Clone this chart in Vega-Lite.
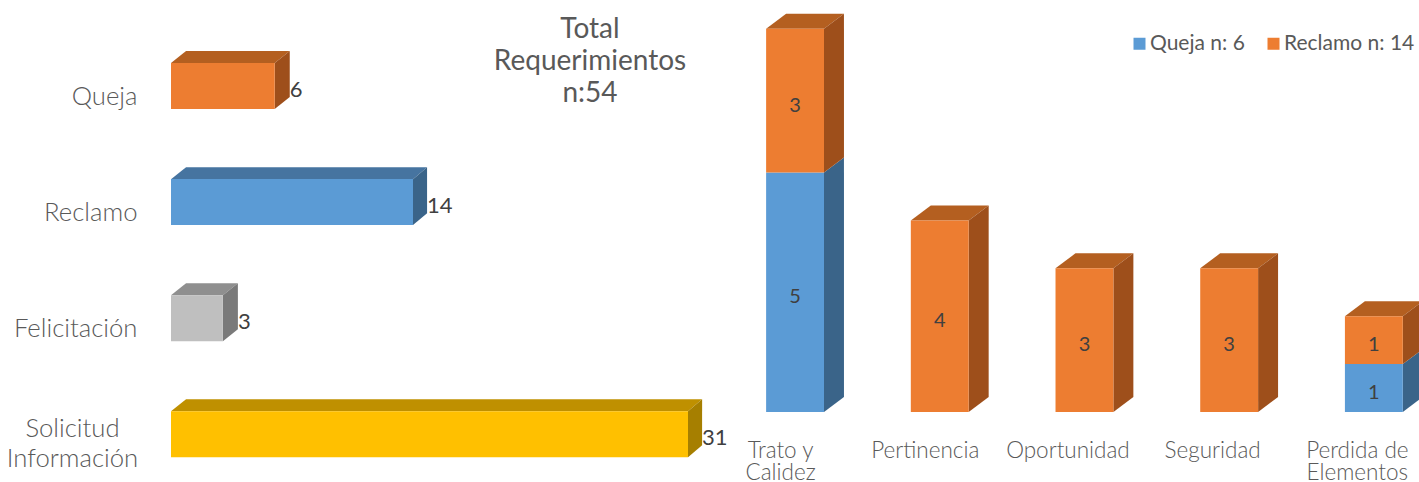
{"$schema":"https://vega.github.io/schema/vega-lite/v6.json","padding":0,"spacing":0,"bounds":"flush","background":"white","config":{"view":{"stroke":null},"font":"Lato"},
"datasets":{"tipos":[{"tipo":"Queja","n":6},{"tipo":"Reclamo","n":14},{"tipo":"Felicitación","n":3},{"tipo":"Solicitud Información","n":31}],
"dims":[{"dim":"Trato y Calidez","serie":"Queja n: 6","n":5},{"dim":"Trato y Calidez","serie":"Reclamo n: 14","n":3},{"dim":"Pertinencia","serie":"Reclamo n: 14","n":4},{"dim":"Oportunidad","serie":"Reclamo n: 14","n":3},{"dim":"Seguridad","serie":"Reclamo n: 14","n":3},{"dim":"Perdida de Elementos","serie":"Queja n: 6","n":1},{"dim":"Perdida de Elementos","serie":"Reclamo n: 14","n":1}],
"titulo":[{"texto":"Total\nRequerimientos\nn:54","xt":24.94,"yt":-0.482}]},
"hconcat":[
{"width":552,"height":482,
"layer":[
{"data":{"name":"tipos"},"transform":[{"calculate":"indexof(['Queja','Reclamo','Felicitación','Solicitud Información'],datum.tipo)","as":"i"},{"calculate":"datum.i-0.198","as":"yt"},{"calculate":"[0,1]","as":"t"},{"flatten":["t"]},{"calculate":"datum.yt-datum.t*0.103","as":"yy"},{"calculate":"datum.t*0.87","as":"xa"},{"calculate":"datum.n+datum.t*0.87","as":"xb"},{"calculate":"datum.tipo+' tapa'","as":"cara"}],
"mark":{"type":"area","orient":"horizontal"},
"encoding":{"y":{"field":"yy","type":"quantitative","scale":{"domain":[-0.741,3.411],"reverse":true,"nice":false,"zero":false},"axis":{"values":[0,1,2,3],"title":null,"domain":false,"ticks":false,"grid":false,"labelOffset":{"condition":{"test":"datum.value==3","value":-6},"value":10},"minExtent":171,"maxExtent":171,"labelPadding":{"condition":{"test":"datum.value==3","value":99},"value":34},"labelAlign":{"condition":{"test":"datum.value==3","value":"center"},"value":"right"},"labelFont":"Lato","labelFontWeight":300,"labelFontSize":25.7,"labelColor":"#595959","labelLineHeight":30,"labelBound":false,"labelFlush":false,"labelOverlap":false,"labelLimit":200,"labelExpr":"[ 'Queja','Reclamo','Felicitación',['Solicitud','Información'] ][datum.value]"}},
"x":{"field":"xa","type":"quantitative","axis":null,"scale":{"domain":[0,14,31,33.16],"range":[0,242,517,552],"nice":false,"zero":false}},"x2":{"field":"xb"},
"color":{"field":"cara","type":"nominal","legend":null,"scale":{"domain":["Queja","Reclamo","Felicitación","Solicitud Información","Queja tapa","Reclamo tapa","Felicitación tapa","Solicitud Información tapa","Queja lado","Reclamo lado","Felicitación lado","Solicitud Información lado"],"range":["#ED7D31","#5B9BD5","#BFBFBF","#FFC000","#B45F20","#4674A0","#8F8F8F","#BF9000","#9E4F1B","#3A6489","#7A7A7A","#A67F00"]}}}},
{"data":{"name":"tipos"},"transform":[{"calculate":"indexof(['Queja','Reclamo','Felicitación','Solicitud Información'],datum.tipo)","as":"i"},{"calculate":"[0,1]","as":"t"},{"flatten":["t"]},{"calculate":"datum.n+datum.t*0.87","as":"xx"},{"calculate":"datum.i+0.198-datum.t*0.103","as":"ya"},{"calculate":"datum.i-0.198-datum.t*0.103","as":"yc"},{"calculate":"datum.tipo+' lado'","as":"cara"}],
"mark":{"type":"area","orient":"vertical"},
"encoding":{"x":{"field":"xx","type":"quantitative","axis":null},"y":{"field":"ya","type":"quantitative"},"y2":{"field":"yc"},"color":{"field":"cara","type":"nominal","legend":null}}},
{"data":{"name":"tipos"},"transform":[{"calculate":"indexof(['Queja','Reclamo','Felicitación','Solicitud Información'],datum.tipo)","as":"i"},{"calculate":"datum.i-0.198","as":"yt"},{"calculate":"datum.i+0.198","as":"yb"},{"calculate":"0","as":"cero"}],
"mark":{"type":"rect"},
"encoding":{"x":{"field":"cero","type":"quantitative","axis":null},"x2":{"field":"n"},"y":{"field":"yt","type":"quantitative"},"y2":{"field":"yb"},"color":{"field":"tipo","type":"nominal","legend":null}}},
{"data":{"name":"tipos"},"transform":[{"calculate":"indexof(['Queja','Reclamo','Felicitación','Solicitud Información'],datum.tipo)","as":"i"},{"calculate":"datum.n+0.87","as":"xl"}],
"mark":{"type":"text","align":"left","baseline":"middle","dy":4,"fontSize":22,"font":"Lato","fontWeight":400,"color":"#404040"},
"encoding":{"x":{"field":"xl","type":"quantitative","axis":null},"y":{"field":"i","type":"quantitative"},"text":{"field":"n","type":"quantitative"}}},
{"data":{"name":"titulo"},
"mark":{"type":"text","align":"center","baseline":"middle","lineBreak":"\n","lineHeight":32,"fontSize":28,"font":"Lato","fontWeight":400,"color":"#595959"},
"encoding":{"x":{"field":"xt","type":"quantitative","axis":null},"y":{"field":"yt","type":"quantitative"},"text":{"field":"texto","type":"nominal"}}}
]},
{"width":696,"height":482,
"layer":[
{"data":{"name":"dims"},"transform":[{"calculate":"indexof(['Trato y Calidez','Pertinencia','Oportunidad','Seguridad','Perdida de Elementos'],datum.dim)","as":"i"},{"stack":"n","groupby":["dim"],"sort":[{"field":"serie","order":"ascending"}],"as":["y0","y1"]},{"joinaggregate":[{"op":"max","field":"y1","as":"ymax"}],"groupby":["dim"]},{"filter":"datum.y1==datum.ymax"},{"calculate":"[0,1]","as":"t"},{"flatten":["t"]},{"calculate":"datum.y1+datum.t*0.3125","as":"yy"},{"calculate":"datum.i-0.2+datum.t*0.138","as":"xa"},{"calculate":"datum.i+0.2+datum.t*0.138","as":"xb"},{"calculate":"datum.serie+' tapa'","as":"cara"}],
"mark":{"type":"area","orient":"horizontal","clip":true},
"encoding":{"y":{"field":"yy","type":"quantitative","axis":null,"scale":{"domain":[-1.461,8.601],"nice":false,"zero":false}},
"x":{"field":"xa","type":"quantitative","scale":{"domain":[-0.498,4.312],"nice":false,"zero":false},"axis":{"values":[0,1,2,3,4],"title":null,"orient":"bottom","offset":-70,"domain":false,"ticks":false,"grid":false,"labelOffset":{"condition":{"test":"datum.value>=2","value":-17},"value":-15},"labelPadding":27,"labelFont":"Lato","labelFontWeight":300,"labelFontSize":22.5,"labelColor":"#595959","labelLineHeight":22.5,"labelBound":false,"labelFlush":false,"labelOverlap":false,"labelLimit":200,"labelAngle":0,"labelExpr":"[ ['Trato y','Calidez'],'Pertinencia','Oportunidad','Seguridad',['Perdida de','Elementos'] ][datum.value]"}},"x2":{"field":"xb"},
"color":{"field":"cara","type":"nominal","scale":{"domain":["Queja n: 6","Reclamo n: 14","Queja n: 6 tapa","Reclamo n: 14 tapa","Queja n: 6 lado","Reclamo n: 14 lado"],"range":["#5B9BD5","#ED7D31","#4674A0","#B45F20","#3A6489","#9E4F1B"]},"legend":{"values":["Queja n: 6","Reclamo n: 14"],"title":null,"orient":"none","legendX":406,"legendY":33,"direction":"horizontal","symbolType":"square","symbolSize":144,"symbolStrokeWidth":0,"labelFont":"Lato","labelFontSize":21,"labelColor":"#595959","columnPadding":18,"labelOffset":0,"labelLimit":200}},"detail":{"field":"dim"}}},
{"data":{"name":"dims"},"transform":[{"calculate":"indexof(['Trato y Calidez','Pertinencia','Oportunidad','Seguridad','Perdida de Elementos'],datum.dim)","as":"i"},{"stack":"n","groupby":["dim"],"sort":[{"field":"serie","order":"ascending"}],"as":["y0","y1"]},{"calculate":"[0,1]","as":"t"},{"flatten":["t"]},{"calculate":"datum.i+0.2+datum.t*0.138","as":"xx"},{"calculate":"datum.y0+datum.t*0.3125","as":"ya"},{"calculate":"datum.y1+datum.t*0.3125","as":"yc"},{"calculate":"datum.dim+' '+datum.serie","as":"grupo"},{"calculate":"datum.serie+' lado'","as":"cara"}],
"mark":{"type":"area","orient":"vertical","clip":true},
"encoding":{"x":{"field":"xx","type":"quantitative"},"y":{"field":"ya","type":"quantitative","axis":null},"y2":{"field":"yc"},"color":{"field":"cara","type":"nominal"},"detail":{"field":"grupo"}}},
{"data":{"name":"dims"},"transform":[{"calculate":"indexof(['Trato y Calidez','Pertinencia','Oportunidad','Seguridad','Perdida de Elementos'],datum.dim)","as":"i"},{"stack":"n","groupby":["dim"],"sort":[{"field":"serie","order":"ascending"}],"as":["y0","y1"]},{"calculate":"datum.i-0.2","as":"xl"},{"calculate":"datum.i+0.2","as":"xr"}],
"mark":{"type":"rect"},
"encoding":{"x":{"field":"xl","type":"quantitative"},"x2":{"field":"xr"},"y":{"field":"y0","type":"quantitative","axis":null},"y2":{"field":"y1"},"color":{"field":"serie","type":"nominal"}}},
{"data":{"name":"dims"},"transform":[{"calculate":"indexof(['Trato y Calidez','Pertinencia','Oportunidad','Seguridad','Perdida de Elementos'],datum.dim)","as":"i"},{"stack":"n","groupby":["dim"],"sort":[{"field":"serie","order":"ascending"}],"as":["y0","y1"]},{"calculate":"(datum.y0+datum.y1)/2","as":"ym"}],
"mark":{"type":"text","align":"center","baseline":"middle","dy":5,"fontSize":20,"font":"Lato","color":"#404040"},
"encoding":{"x":{"field":"i","type":"quantitative"},"y":{"field":"ym","type":"quantitative","axis":null},"text":{"field":"n","type":"quantitative"}}}
]}
],
"resolve":{"scale":{"x":"independent","y":"independent","color":"independent"}}}
